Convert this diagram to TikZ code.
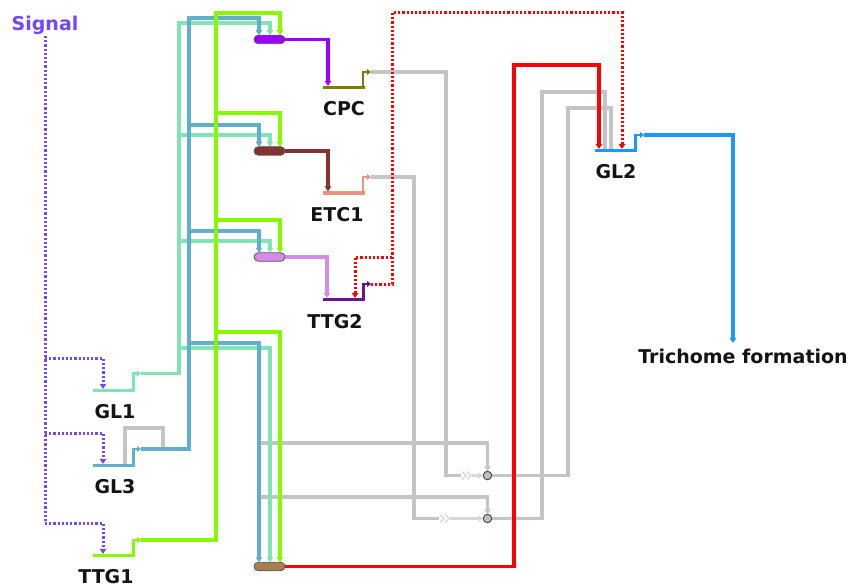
\documentclass[tikz,border=0pt]{standalone}
\usepackage{fontspec}
\setmainfont{DejaVu Sans}
\usetikzlibrary{arrows.meta}
\definecolor{sig}{RGB}{115,70,255}
\definecolor{glone}{RGB}{130,228,182}
\definecolor{glthree}{RGB}{95,175,205}
\definecolor{ttgone}{RGB}{135,250,0}
\definecolor{ovA}{RGB}{155,0,255}
\definecolor{cpcc}{RGB}{125,125,0}
\definecolor{ovB}{RGB}{130,50,50}
\definecolor{etcc}{RGB}{232,150,130}
\definecolor{ovC}{RGB}{212,140,232}
\definecolor{ttgtwo}{RGB}{105,20,150}
\definecolor{ovD}{RGB}{165,128,78}
\definecolor{lk}{RGB}{196,196,196}
\definecolor{lklight}{RGB}{216,216,216}
\definecolor{gltwo}{RGB}{30,150,255}
\definecolor{lblk}{RGB}{20,20,20}
\tikzset{
  lnk/.style={color=#1},
  redlnk/.style={color=red},
  tip/.style={-{Triangle[length=5pt,width=6.5pt]}},
  prom/.style={color=#1,-{Triangle[length=4pt,width=6pt]}},
  dotl/.style={color=#1,dash pattern=on 2.2pt off 2pt},
  ovl/.style={draw=black!65,line width=0.8pt,rounded corners=4.2pt,minimum width=31pt,minimum height=8.5pt,inner sep=0pt,outer sep=0pt},
  gbar/.style={minimum width=42pt,minimum height=3.2pt,inner sep=0pt,outer sep=0pt},
  bub/.style={circle,draw=black!70,fill=black!25,line width=1pt,minimum size=8.5pt,inner sep=0pt,outer sep=0pt},
  lbl/.style={font=\fontsize{19}{22}\selectfont\bfseries,text=lblk,inner sep=0pt,anchor=base},
  chev/.style={color=lklight,line width=1.4pt}
}
\begin{document}
\begin{tikzpicture}[x=1pt,y=-1pt,line width=3.3pt]
\useasboundingbox[fill=white] (0,0) rectangle (854,588);

% nodes
\node[gbar,fill=glone] (gl1) at (114,390.5) {};
\node[gbar,fill=glthree] (gl3) at (114,465.5) {};
\node[gbar,fill=ttgone] (ttg1) at (114,555.5) {};
\node[gbar,fill=cpcc] (cpc) at (343.5,87.5) {};
\node[gbar,fill=etcc] (etc1) at (343.5,193) {};
\node[gbar,fill=ttgtwo] (ttg2) at (344,299.5) {};
\node[gbar,fill=gltwo] (gl2) at (616,150.5) {};
\node[bub] (c1) at (487.5,475.5) {};
\node[bub] (c2) at (487.5,518.5) {};

\coordinate (gl1P) at (141,373.5);
\coordinate (gl3P) at (141,449);
\coordinate (ttg1P) at (141,540);
\coordinate (cpcP) at (371,72);
\coordinate (etc1P) at (371,177);
\coordinate (ttg2P) at (371,284);
\coordinate (gl2P) at (644,135);
\coordinate (trichin) at (733,343);
\coordinate (sigtop) at (45,36);
\coordinate (sigbot) at (45,523);

\path (269.5,39.5) coordinate (o1c) (269.5,151) coordinate (o2c) (269.5,257) coordinate (o3c) (269.5,566.5) coordinate (o4c);
\path node[ovl,draw=none] (o1) at (o1c) {} node[ovl,draw=none] (o2) at (o2c) {}
      node[ovl,draw=none] (o3) at (o3c) {} node[ovl,draw=none] (o4) at (o4c) {};

% gray links
\draw[lnk=lk,line width=3.2pt] (163,449) -- (163,428) -| ([xshift=11pt]gl3.north);
\draw[lnk=lk,tip,line width=3.2pt] (259,443) -| (c1.north);
\draw[lnk=lk,tip,line width=3.2pt] (259,497) -| (c2.north);
\draw[lnk=lk,line width=3.2pt] (cpcP) -| (446,475.5) -- (461,475.5);
\draw[chev] (462,471.5) -- (466,475.5) -- (462,479.5) (467,471.5) -- (471,475.5) -- (467,479.5);
\draw[lnk=lklight,tip,line width=3.2pt] (472,475.5) -- (c1.west);
\draw[lnk=lk,line width=3.2pt] (etc1P) -| (414,518.5) -- (439,518.5);
\draw[chev] (440,514.5) -- (444,518.5) -- (440,522.5) (445,514.5) -- (449,518.5) -- (445,522.5);
\draw[lnk=lklight,tip,line width=3.2pt] (450,518.5) -- (c2.west);
\draw[lnk=lk,line width=3.2pt] (c1.east) -| (568,108) -| ([xshift=-5pt]gl2.north);
\draw[lnk=lk,line width=3.2pt] (c2.east) -| (542,92) -| ([xshift=-11pt]gl2.north);

% signal
\node[lbl,text=sig] (sign) at (45,31) {Signal};
\draw[dotl=sig,line width=3pt] (sigtop) -- (sigbot);
\draw[dotl=sig,tip,line width=3pt] (sigbot) -| ([xshift=-11pt]ttg1.north);
\draw[dotl=sig,tip,line width=3pt] (45,358) -| ([xshift=-11pt]gl1.north);
\draw[dotl=sig,tip,line width=3pt] (45,433) -| ([xshift=-11pt]gl3.north);

% GL1 output
\draw[lnk=glone,tip,line width=3.3pt] (gl1P) -| (179,23) -| ([xshift=0.5pt]o1.north);
\draw[lnk=glone,tip,line width=3.3pt] (179,135) -| ([xshift=0.5pt]o2.north);
\draw[lnk=glone,tip,line width=3.3pt] (179,241) -| ([xshift=0.5pt]o3.north);
\draw[lnk=glone,tip,line width=3.3pt] (179,348) -| ([xshift=0.5pt]o4.north);
% GL3 output
\draw[lnk=glthree,tip,line width=3.3pt] (gl3P) -| (189,18) -| ([xshift=-10.5pt]o1.north);
\draw[lnk=glthree,tip,line width=3.3pt] (189,125) -| ([xshift=-10.5pt]o2.north);
\draw[lnk=glthree,tip,line width=3.3pt] (189,231) -| ([xshift=-10.5pt]o3.north);
\draw[lnk=glthree,tip,line width=3.3pt] (189,343) -| ([xshift=-10.5pt]o4.north);
% TTG1 output
\draw[lnk=ttgone,tip,line width=3.3pt] (ttg1P) -| (216,13) -| ([xshift=10.5pt]o1.north);
\draw[lnk=ttgone,tip,line width=3.3pt] (216,113) -| ([xshift=10.5pt]o2.north);
\draw[lnk=ttgone,tip,line width=3.3pt] (216,220) -| ([xshift=10.5pt]o3.north);
\draw[lnk=ttgone,tip,line width=3.3pt] (216,332) -| ([xshift=10.5pt]o4.north);

% ovals
\node[ovl,fill=ovA] at (o1c) {};
\node[ovl,fill=ovB] at (o2c) {};
\node[ovl,fill=ovC] at (o3c) {};
\node[ovl,fill=ovD] at (o4c) {};

% oval outputs
\draw[lnk=ovA,tip,line width=3.3pt] (o1.east) -| ([xshift=-15.5pt]cpc.north);
\draw[lnk=ovB,tip,line width=3.3pt] (o2.east) -| ([xshift=-15.5pt]etc1.north);
\draw[lnk=ovC,tip,line width=3.3pt] (o3.east) -| ([xshift=-17pt]ttg2.north);
\draw[redlnk,tip,line width=3.9pt] (o4.east) -| (514,65) -| ([xshift=-17pt]gl2.north);

% TTG2 output (dotted red)
\draw[dotl=red,tip,line width=3pt] (ttg2P) -| (392,13) -| ([xshift=6pt]gl2.north);
\draw[dotl=red,tip,line width=3pt] (392,257) -| ([xshift=11pt]ttg2.north);

% promoters
\draw[prom=glone,line width=2.8pt] ([xshift=-1.5pt]gl1.east) |- (gl1P);
\draw[prom=glthree,line width=2.8pt] ([xshift=-1.5pt]gl3.east) |- (gl3P);
\draw[prom=ttgone,line width=2.8pt] ([xshift=-1.5pt]ttg1.east) |- (ttg1P);
\draw[prom=cpcc,line width=2.8pt] ([xshift=-1.5pt]cpc.east) |- (cpcP);
\draw[prom=etcc,line width=2.8pt] ([xshift=-1.5pt]etc1.east) |- (etc1P);
\draw[prom=ttgtwo,line width=2.8pt] ([xshift=-1.5pt]ttg2.east) |- (ttg2P);
\draw[prom=gltwo,line width=2.8pt] ([xshift=-1.5pt]gl2.east) |- (gl2P);

% GL2 output
\draw[lnk=gltwo,tip,line width=3.3pt] (gl2P) -| (trichin);

% labels
\node[lbl] (tcpc) at (344,116) {CPC};
\node[lbl] (tetc) at (337,222) {ETC1};
\node[lbl] (tttg2) at (335,328) {TTG2};
\node[lbl] (tgl1) at (115,418) {GL1};
\node[lbl] (tgl3) at (115,493) {GL3};
\node[lbl] (tttg1) at (106,583) {TTG1};
\node[lbl] (tgl2) at (616,179) {GL2};
\node[lbl] (trich) at (743,363) {Trichome formation};
\end{tikzpicture}
\end{document}
